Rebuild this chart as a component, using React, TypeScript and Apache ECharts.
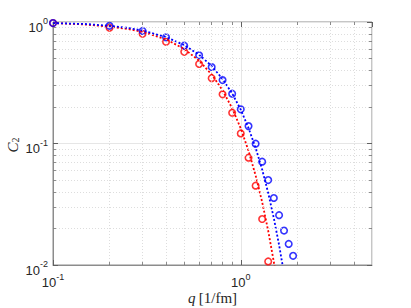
import React, { useEffect, useRef } from "react";
import * as echarts from "echarts";

// Measured points
const qBlue = [0.1, 0.2, 0.3, 0.4, 0.5, 0.6, 0.7, 0.8, 0.9, 1.0, 1.1, 1.2, 1.3, 1.4, 1.5, 1.6, 1.7, 1.8, 1.9];
const c2Blue = [0.98, 0.93, 0.845, 0.748, 0.638, 0.532, 0.426, 0.333, 0.257, 0.191, 0.139, 0.0997, 0.0709, 0.05, 0.0356, 0.0257, 0.0192, 0.0149, 0.0119];
const qRed = [0.1, 0.2, 0.3, 0.4, 0.5, 0.6, 0.7, 0.8, 0.9, 1.0, 1.1, 1.2, 1.3, 1.4];
const c2Red = [0.98, 0.898, 0.8, 0.687, 0.568, 0.452, 0.345, 0.254, 0.179, 0.121, 0.0764, 0.045, 0.0239, 0.0107];

// Fit curves
const qFitBlue = [0.1, 0.15, 0.2, 0.25, 0.3, 0.4, 0.5, 0.6, 0.7, 0.8, 0.9, 1.0, 1.1, 1.2, 1.3, 1.4, 1.5, 1.6, 1.7];
const c2FitBlue = [0.98, 0.962, 0.93, 0.895, 0.85, 0.752, 0.645, 0.538, 0.434, 0.34, 0.258, 0.19, 0.134, 0.092, 0.061, 0.0392, 0.0243, 0.0146, 0.0085];
const qFitRed = [0.1, 0.15, 0.2, 0.25, 0.3, 0.4, 0.5, 0.6, 0.7, 0.8, 0.9, 1.0, 1.1, 1.2, 1.3, 1.4, 1.5, 1.6];
const c2FitRed = [0.98, 0.953, 0.915, 0.875, 0.83, 0.72, 0.6, 0.48, 0.37, 0.274, 0.195, 0.133, 0.087, 0.0545, 0.033, 0.0191, 0.0106, 0.0057];

// Axes
const xMin = 0.1;
const xMax = 5;
const yMin = 0.01;
const yMax = 1;
const xMinor = [0.2, 0.3, 0.4, 0.5, 0.6, 0.7, 0.8, 0.9, 2, 3, 4];
const yMinor = [0.02, 0.03, 0.04, 0.05, 0.06, 0.07, 0.08, 0.09, 0.2, 0.3, 0.4, 0.5, 0.6, 0.7, 0.8, 0.9];
const yTitle = "{c|C}{sub|2}";
const xTitle = "{i|q} {n|[1/fm]}";

const BLUE = "#0000ff";
const RED = "#ff0000";

const pairs = (xs: number[], ys: number[]) => xs.map((x, i) => [x, ys[i]]);

const powLabel = (v: number) => {
  const e = Math.round(Math.log10(v));
  return `{b|10}{s|${e}}`;
};

const FONT = "Liberation Sans, Arial, Helvetica, sans-serif";
const SERIF = "Liberation Serif, DejaVu Serif, serif";
const tickRich = {
  b: { fontSize: 13, fontFamily: FONT, color: "#262626", lineHeight: 17, verticalAlign: "bottom" },
  s: { fontSize: 9, fontFamily: FONT, color: "#262626", lineHeight: 17, verticalAlign: "top" },
};

// tick length factors in data space (log axes): ~3px
const PX_PER_DEC_X = 187.8;
const PX_PER_DEC_Y = 121.5;
const minorLen = 3;
const fx = Math.pow(10, minorLen / PX_PER_DEC_X);
const fy = Math.pow(10, minorLen / PX_PER_DEC_Y);

export default function App() {
  const ref = useRef<HTMLDivElement>(null);
  useEffect(() => {
    if (!ref.current) return;
    const chart = echarts.init(ref.current, undefined, { renderer: "svg" });
    const minorLine = { color: "#d4d4d4", width: 0.8, type: [1, 2] as any };
    const tickLine = { color: "#707070", width: 0.8, type: "solid" as any };
    const minorTicks: any[] = [];
    xMinor.forEach((x) => {
      minorTicks.push([{ coord: [x, yMin] }, { coord: [x, yMin * fy] }]);
      minorTicks.push([{ coord: [x, yMax] }, { coord: [x, yMax / fy] }]);
    });
    yMinor.forEach((y) => {
      minorTicks.push([{ coord: [xMin, y] }, { coord: [xMin * fx, y] }]);
      minorTicks.push([{ coord: [xMax, y] }, { coord: [xMax / fx, y] }]);
    });
    chart.setOption({
      animation: false,
      backgroundColor: "#ffffff",
      grid: {
        left: 53,
        right: 39,
        top: 22,
        bottom: 43,
        show: true,
        containLabel: false,
        outerBoundsMode: "none",
        borderColor: "#8c8c8c",
        borderWidth: 1,
        backgroundColor: "#ffffff",
      },
      graphic: [
        {
          type: "text",
          rotation: Math.PI / 2,
          x: 12,
          y: 145,
          style: {
            text: yTitle,
            align: "center",
            verticalAlign: "middle",
            rich: {
              c: { fontFamily: SERIF, fontStyle: "italic", fontSize: 15, fill: "#262626", verticalAlign: "bottom", lineHeight: 16 },
              sub: { fontFamily: SERIF, fontSize: 10, fill: "#262626", verticalAlign: "bottom", lineHeight: 12 },
            } as any,
          },
        },
      ],
      xAxis: [
        {
          type: "log",
          min: xMin,
          max: xMax,
          logBase: 10,
          position: "bottom",
          axisLine: { show: true, lineStyle: { color: "#8c8c8c", width: 1 } },
          axisTick: { show: true, inside: true, length: 5, lineStyle: { color: "#606060" } },
          splitLine: { show: true, lineStyle: { color: "#e6e6e6", width: 1 } },
          axisLabel: {
            formatter: powLabel,
            rich: tickRich,
            margin: 7,
            showMaxLabel: false,
          },
          name: xTitle,
          nameLocation: "middle",
          nameGap: 25,
          nameMoveOverlap: false,
          nameTextStyle: {
            rich: {
              i: { fontFamily: SERIF, fontStyle: "italic", fontSize: 15, color: "#262626" },
              n: { fontFamily: SERIF, fontSize: 15, color: "#262626" },
            },
          },
        },
        {
          type: "log",
          min: xMin,
          max: xMax,
          position: "top",
          axisLine: { show: false },
          axisTick: { show: true, inside: true, length: 5, lineStyle: { color: "#606060" } },
          splitLine: { show: false },
          axisLabel: { show: false },
        },
      ],
      yAxis: [
        {
          type: "log",
          min: yMin,
          max: yMax,
          logBase: 10,
          position: "left",
          axisLine: { show: true, lineStyle: { color: "#8c8c8c", width: 1 } },
          axisTick: { show: true, inside: true, length: 5, lineStyle: { color: "#606060" } },
          splitLine: { show: true, lineStyle: { color: "#e6e6e6", width: 1 } },
          axisLabel: { formatter: powLabel, rich: tickRich, margin: 5, padding: [6, 0, 0, 0] },
        },
        {
          type: "log",
          min: yMin,
          max: yMax,
          position: "right",
          axisLine: { show: false },
          axisTick: { show: true, inside: true, length: 5, lineStyle: { color: "#606060" } },
          splitLine: { show: false },
          axisLabel: { show: false },
        },
      ],
      series: [
        {
          type: "line",
          name: "grid",
          data: [],
          silent: true,
          markLine: {
            silent: true,
            symbol: "none",
            label: { show: false },
            lineStyle: minorLine,
            data: [
              ...xMinor.map((v) => ({ xAxis: v })),
              ...yMinor.map((v) => ({ yAxis: v })),
            ],
          },
        },
        {
          type: "line",
          name: "ticks",
          data: [],
          silent: true,
          z: 5,
          markLine: {
            silent: true,
            symbol: "none",
            label: { show: false },
            lineStyle: tickLine,
            data: minorTicks,
          },
        },
        {
          type: "line",
          name: "red fit",
          data: pairs(qFitRed, c2FitRed),
          showSymbol: false,
          symbol: "none",
          clip: true,
          lineStyle: { color: RED, width: 1.8, type: [2, 2] as any },
        },
        {
          type: "scatter",
          name: "red",
          data: pairs(qRed, c2Red),
          symbol: "circle",
          symbolSize: 6.5,
          clip: true,
          itemStyle: { color: "rgba(0,0,0,0)", borderColor: RED, borderWidth: 1.6 },
        },
        {
          type: "line",
          name: "blue fit",
          data: pairs(qFitBlue, c2FitBlue),
          showSymbol: false,
          symbol: "none",
          clip: true,
          lineStyle: { color: BLUE, width: 1.8, type: [2, 2] as any },
        },
        {
          type: "scatter",
          name: "blue",
          data: pairs(qBlue, c2Blue),
          symbol: "circle",
          symbolSize: 6.5,
          clip: true,
          itemStyle: { color: "rgba(0,0,0,0)", borderColor: BLUE, borderWidth: 1.6 },
        },
      ],
    });
    return () => chart.dispose();
  }, []);
  return (
    <div
      ref={ref}
      style={{ position: "fixed", left: 0, top: 0, width: 411, height: 308, background: "#fff" }}
    />
  );
}
